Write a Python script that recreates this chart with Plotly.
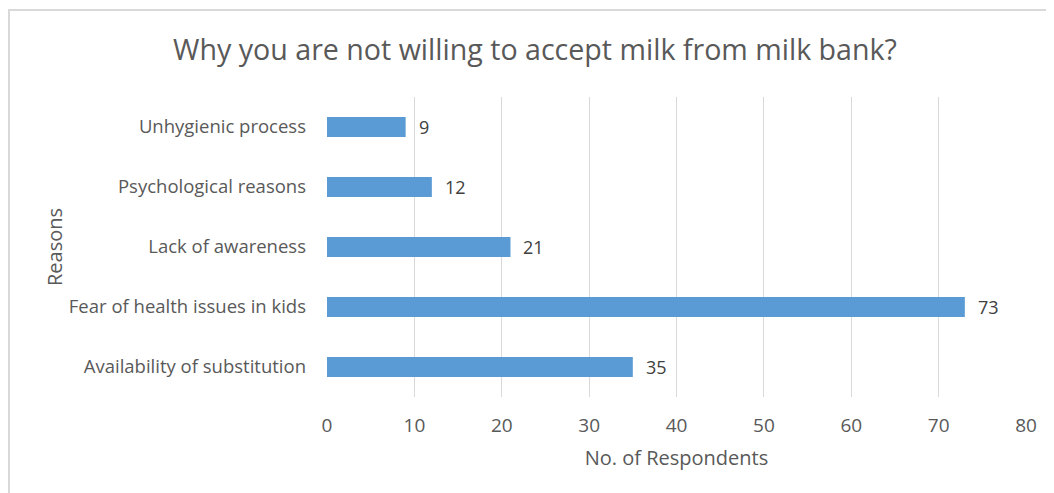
import plotly.graph_objects as go

categories = ["Availability of substitution", "Fear of health issues in kids",
              "Lack of awareness", "Psychological reasons", "Unhygienic process"]
values = [35, 73, 21, 12, 9]
x_ticks = [0, 10, 20, 30, 40, 50, 60, 70, 80]

TEXT = "#595959"
FONT = "Open Sans"

O = 8  # page body margin offset
W, H = 1054 - O, 493 - O
ML, MT = 327 - O, 97 - O
MR = W - (1026 - O)
MB = H - (397 - O)
pw, ph = W - ML - MR, H - MT - MB

fig = go.Figure()
fig.add_trace(go.Bar(
    x=values, y=categories, orientation="h",
    marker=dict(color="#5B9BD5", line=dict(width=0)),
    width=0.333, hoverinfo="x+y",
))

for v, c in zip(values, categories):
    fig.add_annotation(x=v, y=c, text=str(v), showarrow=False, xanchor="left",
                       xshift=11, font=dict(family=FONT, size=18, color="#404040"))

def px_x(p):
    return (p - O - ML) / pw

def px_y(p):
    return (H - MB - (p - O)) / ph

fig.add_shape(type="rect", xref="paper", yref="paper",
              x0=px_x(9), x1=px_x(1080), y0=px_y(520), y1=px_y(10),
              line=dict(color="#D9D9D9", width=2), fillcolor="rgba(0,0,0,0)", layer="below")

fig.update_layout(
    width=W, height=H,
    margin=dict(l=ML, r=MR, t=MT, b=MB),
    paper_bgcolor="white", plot_bgcolor="white",
    showlegend=False,
    font=dict(family=FONT, color=TEXT),
    title=dict(text="Why you are not willing to accept milk from milk bank?",
               x=(535 - O) / W, xanchor="center", y=1 - (50 - O) / H, yanchor="middle",
               font=dict(family=FONT, size=28.6, color=TEXT)),
    xaxis=dict(range=[0, 80], tickvals=x_ticks, showgrid=True, gridcolor="#D9D9D9",
               gridwidth=1, zeroline=False, showline=False,
               tickfont=dict(family=FONT, size=19, color=TEXT),
               ticklabelstandoff=15,
               title=dict(text="No. of Respondents", standoff=13,
                          font=dict(family=FONT, size=20, color=TEXT))),
    yaxis=dict(categoryorder="array", categoryarray=categories, showgrid=False,
               zeroline=False, showline=False, range=[-0.5, 4.5],
               tickfont=dict(family=FONT, size=18.5, color=TEXT),
               ticklabelstandoff=20,
               title=dict(text="Reasons", standoff=0,
                          font=dict(family=FONT, size=20, color=TEXT))),
)

fig.write_html("out.html")
